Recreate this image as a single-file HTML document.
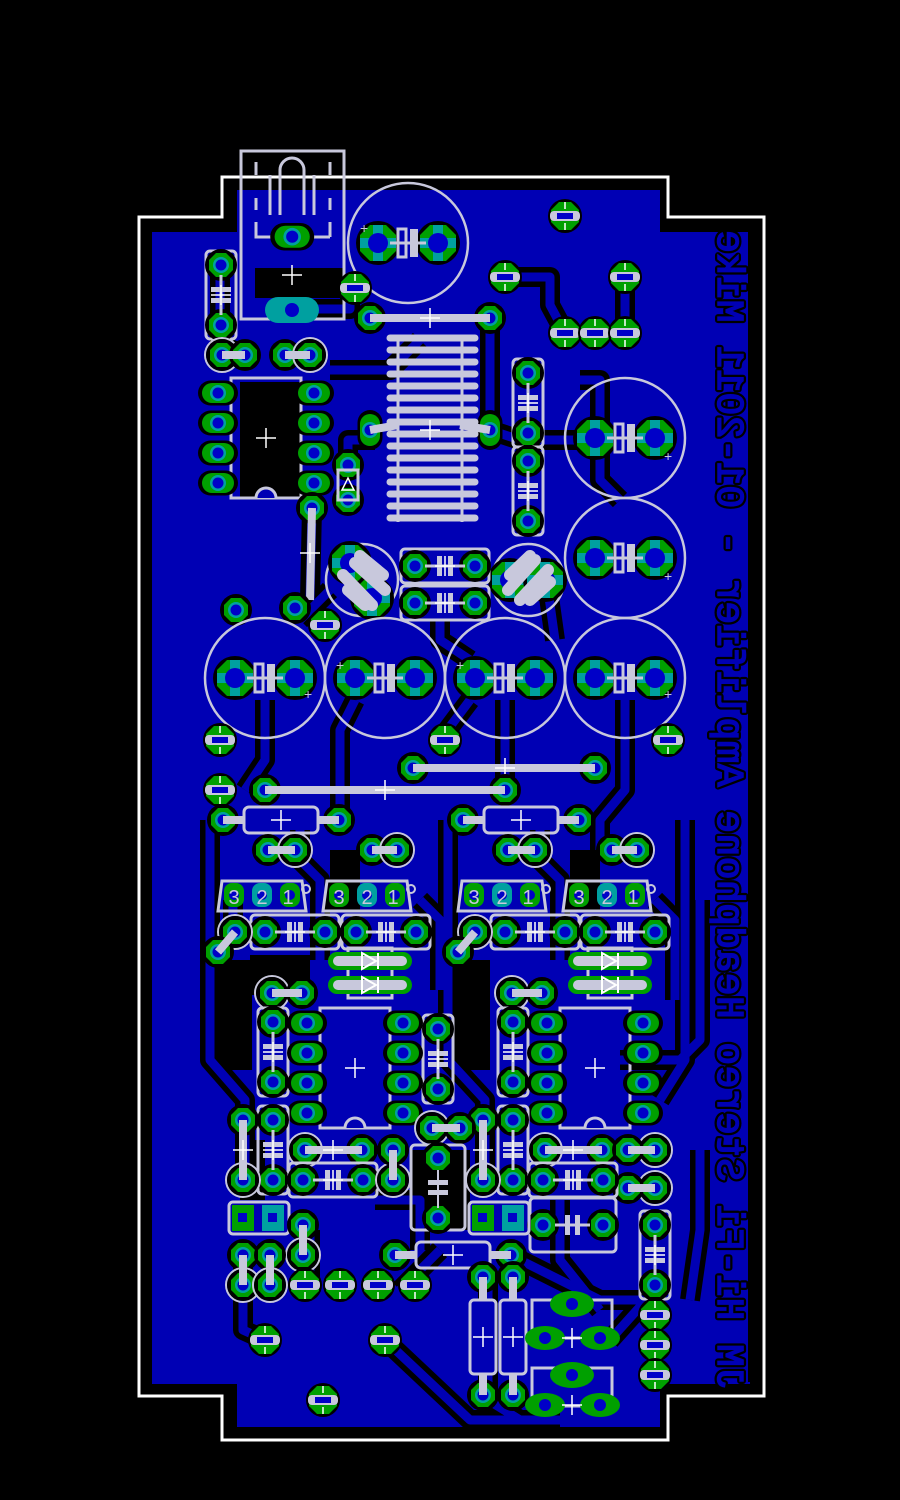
<!DOCTYPE html>
<html><head><meta charset="utf-8"><style>html,body{margin:0;padding:0;background:#000}svg{display:block}</style></head>
<body>
<svg width="900" height="1500" viewBox="0 0 900 1500" xmlns="http://www.w3.org/2000/svg">
<defs>
<g id="p"><circle r="16" fill="#000"/><polygon points="-5,-12 5,-12 12,-5 12,5 5,12 -5,12 -12,5 -12,-5" fill="#00a000"/><circle r="8" fill="#00a0a0"/><circle r="5.5" fill="#0000c8"/></g>
<g id="bp"><circle r="22" fill="#000"/><polygon points="-8,-18 8,-18 18,-8 18,8 8,18 -8,18 -18,8 -18,-8" fill="#00a000"/><path d="M0,-18 V18 M-18,0 H18" stroke="#00a0a0" stroke-width="10"/><circle r="10" fill="#0000c8"/></g>
<g id="s"><circle r="17" fill="#000"/><polygon points="-6,-14 6,-14 14,-6 14,6 6,14 -6,14 -14,6 -14,-6" fill="#00a000"/><rect x="-15" y="-5" width="30" height="10" rx="4" fill="#c8c8dc"/><rect x="-8" y="-3" width="16" height="6" fill="#0000c8"/><path d="M0,-14 V-7 M0,7 V14" stroke="#fff" stroke-width="1.5"/></g>
<g id="r"><circle r="17" fill="none" stroke="#c8c8dc" stroke-width="2"/><circle r="13" fill="none" stroke="#c8c8dc" stroke-width="2"/><use href="#p"/></g>
<g id="ov"><rect x="-16" y="-10" width="32" height="20" rx="10" fill="#000" transform="scale(1.25)"/><rect x="-16" y="-10" width="32" height="20" rx="10" fill="#00a000"/><circle r="8" fill="#00a0a0"/><circle r="5.5" fill="#0000c8"/></g>
<g id="cx"><path d="M-10,0 H10 M0,-10 V10" stroke="#fff" stroke-width="1.5"/></g>
<g id="ch"><rect x="-44" y="-17" width="88" height="34" rx="4" fill="none" stroke="#c8c8dc" stroke-width="3"/><use href="#p" x="-30"/><use href="#p" x="30"/><path d="M-20,0 H20" stroke="#c8c8dc" stroke-width="3"/><rect x="-8" y="-10" width="5" height="20" fill="#c8c8dc"/><rect x="3" y="-10" width="5" height="20" fill="#c8c8dc"/><use href="#cx"/></g>
<g id="cv"><rect x="-15" y="-44" width="30" height="88" rx="4" fill="none" stroke="#c8c8dc" stroke-width="3"/><use href="#p" y="-30"/><use href="#p" y="30"/><path d="M0,-20 V20" stroke="#c8c8dc" stroke-width="3"/><rect x="-10" y="-8" width="20" height="5" fill="#c8c8dc"/><rect x="-10" y="3" width="20" height="5" fill="#c8c8dc"/><use href="#cx"/></g>
<g id="el"><circle r="60" fill="none" stroke="#c8c8dc" stroke-width="2.5"/><use href="#bp" x="-30"/><use href="#bp" x="30"/><path d="M-18,0 H18" stroke="#c8c8dc" stroke-width="3"/><rect x="-10" y="-14" width="8" height="28" fill="none" stroke="#c8c8dc" stroke-width="3"/><rect x="2" y="-14" width="8" height="28" fill="#c8c8dc"/></g>
<g id="res"><rect x="-37" y="-13" width="74" height="26" rx="5" fill="none" stroke="#c8c8dc" stroke-width="3"/><use href="#p" x="-58"/><use href="#p" x="58"/><path d="M-58,0 H-37 M37,0 H58" stroke="#c8c8dc" stroke-width="8"/><use href="#cx"/></g>
<g id="tr"><path d="M-40,-14 H40 L44,16 H-44 Z" fill="none" stroke="#c8c8dc" stroke-width="3"/><rect x="-38" y="-12" width="20" height="24" rx="8" fill="#00a000"/><rect x="-10" y="-12" width="20" height="24" rx="8" fill="#00a0a0"/><rect x="18" y="-12" width="20" height="24" rx="8" fill="#00a000"/><circle cx="-28" r="5" fill="#0000c8"/><circle r="5" fill="#0000c8"/><circle cx="28" r="5" fill="#0000c8"/><text x="-28" y="9" font-family="Liberation Sans, sans-serif" font-size="20" fill="#c8c8dc" text-anchor="middle">3</text><text x="0" y="9" font-family="Liberation Sans, sans-serif" font-size="20" fill="#c8c8dc" text-anchor="middle">2</text><text x="26" y="9" font-family="Liberation Sans, sans-serif" font-size="20" fill="#c8c8dc" text-anchor="middle">1</text><circle cx="44" cy="-6" r="4" fill="none" stroke="#c8c8dc" stroke-width="2"/></g>
<g id="dip"><rect x="-35" y="-60" width="70" height="120" fill="none" stroke="#c8c8dc" stroke-width="3"/><path d="M-10,60 A10,10 0 0 1 10,60" fill="#0000b4" stroke="#c8c8dc" stroke-width="3"/><use href="#ov" x="-48" y="-45"/><use href="#ov" x="-48" y="-15"/><use href="#ov" x="-48" y="15"/><use href="#ov" x="-48" y="45"/><use href="#ov" x="48" y="-45"/><use href="#ov" x="48" y="-15"/><use href="#ov" x="48" y="15"/><use href="#ov" x="48" y="45"/><use href="#cx"/></g>
<g id="dd"><rect x="-22" y="-25" width="44" height="50" fill="none" stroke="#c8c8dc" stroke-width="3"/><rect x="-42" y="-21" width="84" height="18" rx="9" fill="#00a000"/><rect x="-42" y="3" width="84" height="18" rx="9" fill="#00a000"/><path d="M-32,-12 H32 M-32,12 H32" stroke="#c8c8dc" stroke-width="10" stroke-linecap="round"/><path d="M-8,-20 L6,-12 L-8,-4 Z M-8,4 L6,12 L-8,20 Z" fill="none" stroke="#fff" stroke-width="2"/><path d="M8,-20 V-4 M8,4 V20" stroke="#fff" stroke-width="2"/></g>
</defs>

<path d="M222,177 H668 V217 H764 V1396 H668 V1440 H222 V1396 H139 V217 H222 Z" fill="none" stroke="#fff" stroke-width="3"/>
<path d="M152,232 H237 V190 H660 V232 H750 V1384 H660 V1427 H237 V1384 H152 Z" fill="#0000b4"/>

<g fill="#000">
<rect x="240" y="382" width="62" height="115"/>
<rect x="255" y="268" width="90" height="30"/>
<rect x="212" y="960" width="40" height="110"/>
<rect x="250" y="955" width="60" height="40"/>
<rect x="450" y="960" width="40" height="110"/>
<rect x="240" y="1140" width="25" height="60"/>
<rect x="410" y="1150" width="60" height="80"/>
<rect x="330" y="850" width="30" height="60"/>
<rect x="570" y="850" width="30" height="60"/>
</g>

<g fill="none" stroke="#000" stroke-width="20" stroke-linejoin="round">
<path d="M220,265 V345 L245,355"/><path d="M292,309 H350 V290"/><path d="M312,508 L310,600"/><path d="M330,370 H390 L420,340"/><path d="M348,470 V440 H375"/><path d="M505,277 H550 V305 L565,333"/><path d="M625,277 V333"/><path d="M490,320 V430 L520,440 H590 L600,420 V400"/><path d="M555,440 H610"/><path d="M580,380 H600 V480 L620,500"/><path d="M300,620 L330,590"/><path d="M265,700 V760 L245,790"/><path d="M355,700 L340,730 V820"/><path d="M505,700 V790"/><path d="M625,700 V790 L600,820 V850"/><path d="M440,620 V640 L470,660"/><path d="M548,590 L555,640"/><path d="M210,820 V1060 L245,1100 V1180"/><path d="M448,820 V1060 L485,1100 V1180"/><path d="M685,820 V1060 L660,1100"/><path d="M233,900 V920"/><path d="M300,830 V860 L320,880 V960"/><path d="M540,830 V860 L560,880 V960"/><path d="M420,900 L440,920 V990"/><path d="M655,900 L675,920 V1000"/><path d="M243,1260 V1330 L265,1340"/><path d="M440,1250 L400,1290"/><path d="M385,1340 L470,1420 H560"/><path d="M488,1280 V1400 L520,1420"/><path d="M520,1260 L600,1300 H650"/><path d="M560,1200 L560,1260 L600,1310"/><path d="M700,1150 V1230 L690,1300"/><path d="M655,1290 L610,1340"/><path d="M375,1200 H420 V1250"/><path d="M310,1230 V1290"/><path d="M620,1060 H680 L700,1040 V900"/><path d="M440,740 L470,700"/>
</g>
<g fill="none" stroke="#0000b4" stroke-width="9" stroke-linejoin="round">
<path d="M220,265 V345 L245,355"/><path d="M292,309 H350 V290"/><path d="M312,508 L310,600"/><path d="M330,370 H390 L420,340"/><path d="M348,470 V440 H375"/><path d="M505,277 H550 V305 L565,333"/><path d="M625,277 V333"/><path d="M490,320 V430 L520,440 H590 L600,420 V400"/><path d="M555,440 H610"/><path d="M580,380 H600 V480 L620,500"/><path d="M300,620 L330,590"/><path d="M265,700 V760 L245,790"/><path d="M355,700 L340,730 V820"/><path d="M505,700 V790"/><path d="M625,700 V790 L600,820 V850"/><path d="M440,620 V640 L470,660"/><path d="M548,590 L555,640"/><path d="M210,820 V1060 L245,1100 V1180"/><path d="M448,820 V1060 L485,1100 V1180"/><path d="M685,820 V1060 L660,1100"/><path d="M233,900 V920"/><path d="M300,830 V860 L320,880 V960"/><path d="M540,830 V860 L560,880 V960"/><path d="M420,900 L440,920 V990"/><path d="M655,900 L675,920 V1000"/><path d="M243,1260 V1330 L265,1340"/><path d="M440,1250 L400,1290"/><path d="M385,1340 L470,1420 H560"/><path d="M488,1280 V1400 L520,1420"/><path d="M520,1260 L600,1300 H650"/><path d="M560,1200 L560,1260 L600,1310"/><path d="M700,1150 V1230 L690,1300"/><path d="M655,1290 L610,1340"/><path d="M375,1200 H420 V1250"/><path d="M310,1230 V1290"/><path d="M620,1060 H680 L700,1040 V900"/><path d="M440,740 L470,700"/>
</g>

<!-- text -->
<rect x="748" y="232" width="14" height="1150" fill="#000"/>
<text transform="translate(718,1390) scale(-1,1) rotate(-90)" font-family="Liberation Mono, monospace" font-size="38" fill="#0000b4" stroke="#000" stroke-width="6" stroke-linejoin="round" textLength="1160" lengthAdjust="spacing">JM Hi-Fi Stereo Headphone Amplifier - 01-2011 Mike</text>
<text transform="translate(718,1390) scale(-1,1) rotate(-90)" font-family="Liberation Mono, monospace" font-size="38" fill="#0000b4" stroke="#0000b4" stroke-width="1.5" textLength="1160" lengthAdjust="spacing">JM Hi-Fi Stereo Headphone Amplifier - 01-2011 Mike</text>

<g stroke="#c8c8dc" stroke-width="3" fill="none">
<rect x="241" y="151" width="103" height="168"/>
<path d="M256,162 V175 M256,198 V210 M256,222 V237 H330 M330,162 V175 M330,198 V210 M330,222 V237"/>
<path d="M280,215 V170 A12,12 0 0 1 304,170 V215 M270,175 V215 M314,175 V215"/>
</g>
<use href="#ov" x="292" y="237" transform="translate(-29,-24) scale(1.1)"/>
<g><rect x="265" y="297" width="54" height="26" rx="13" fill="#00a0a0"/><circle cx="292" cy="310" r="7" fill="#0000c8"/></g>
<use href="#cx" x="292" y="275"/>
<use href="#cv" x="221" y="295"/>
<use href="#el" x="408" y="243"/>
<text x="360" y="233" font-family="Liberation Sans, sans-serif" font-size="14" fill="#c8c8dc">+</text>
<use href="#s" x="565" y="216"/>
<use href="#s" x="355" y="288"/>
<use href="#s" x="505" y="277"/><use href="#s" x="625" y="277"/>
<use href="#s" x="565" y="333"/><use href="#s" x="595" y="333"/><use href="#s" x="625" y="333"/>

<use href="#r" x="222" y="355"/><use href="#p" x="245" y="355"/><use href="#p" x="285" y="355"/><use href="#r" x="310" y="355"/>
<path d="M222,355 H245 M285,355 H310" stroke="#c8c8dc" stroke-width="8"/>

<!-- coil -->
<use href="#p" x="370" y="318"/><use href="#p" x="490" y="318"/>
<path d="M370,318 H490" stroke="#c8c8dc" stroke-width="8"/>
<use href="#ov" x="370" y="430" transform="rotate(90 370 430)"/><use href="#ov" x="490" y="430" transform="rotate(90 490 430)"/>
<g stroke="#c8c8dc" stroke-width="7" stroke-linecap="round">
<path d="M390,338 H475 M390,350 H475 M390,362 H475 M390,374 H475 M390,386 H475 M390,398 H475 M390,410 H475 M390,422 H475 M390,434 H475 M390,446 H475 M390,458 H475 M390,470 H475 M390,482 H475 M390,494 H475 M390,506 H475 M390,518 H475"/>
</g>
<path d="M398,335 V522 M462,335 V522" stroke="#c8c8dc" stroke-width="3"/>
<path d="M370,430 L398,425 M490,430 L460,425" stroke="#c8c8dc" stroke-width="8"/>
<use href="#cx" x="430" y="430"/><use href="#cx" x="430" y="318"/>

<use href="#dip" x="266" y="438"/>
<use href="#p" x="348" y="465"/><use href="#p" x="348" y="500"/>
<rect x="338" y="470" width="20" height="30" fill="none" stroke="#c8c8dc" stroke-width="3"/>
<path d="M342,490 L348,478 L354,490 Z" fill="none" stroke="#fff" stroke-width="1.5"/>
<use href="#p" x="312" y="508"/>
<path d="M312,508 L310,600" stroke="#c8c8dc" stroke-width="8"/>
<use href="#cx" x="310" y="553"/>

<use href="#cv" x="528" y="403"/><use href="#cv" x="528" y="491"/>
<use href="#el" x="625" y="438"/><use href="#el" x="625" y="558"/>
<text x="664" y="461" font-family="Liberation Sans, sans-serif" font-size="14" fill="#c8c8dc">+</text>
<text x="664" y="581" font-family="Liberation Sans, sans-serif" font-size="14" fill="#c8c8dc">+</text>

<g>
<circle cx="362" cy="580" r="36" fill="none" stroke="#c8c8dc" stroke-width="2.5"/>
<use href="#bp" x="350" y="563"/><use href="#bp" x="372" y="598"/>
<path d="M343,575 L372,605 M355,563 L385,590 M348,590 L365,605 M360,556 L383,575" stroke="#c8c8dc" stroke-width="12" stroke-linecap="round"/>
<circle cx="528" cy="580" r="36" fill="none" stroke="#c8c8dc" stroke-width="2.5"/>
<use href="#bp" x="510" y="580"/><use href="#bp" x="545" y="580"/>
<path d="M508,590 L535,560 M520,600 L548,570 M510,575 L530,556 M530,600 L550,582" stroke="#c8c8dc" stroke-width="12" stroke-linecap="round"/>
</g>
<use href="#ch" x="445" y="566"/><use href="#ch" x="445" y="603"/>
<use href="#p" x="236" y="610"/><use href="#p" x="295" y="608"/><use href="#s" x="325" y="625"/>

<use href="#el" x="265" y="678"/><use href="#el" x="385" y="678"/><use href="#el" x="505" y="678"/><use href="#el" x="625" y="678"/>
<g font-family="Liberation Sans, sans-serif" font-size="14" fill="#c8c8dc"><text x="304" y="699">+</text><text x="336" y="670">+</text><text x="456" y="670">+</text><text x="664" y="699">+</text></g>
<use href="#s" x="220" y="740"/><use href="#s" x="445" y="740"/><use href="#s" x="668" y="740"/><use href="#s" x="220" y="790"/>

<use href="#p" x="413" y="768"/><use href="#p" x="595" y="768"/>
<path d="M413,768 H595" stroke="#c8c8dc" stroke-width="8"/><use href="#cx" x="505" y="768"/>
<use href="#p" x="265" y="790"/><use href="#p" x="505" y="790"/>
<path d="M265,790 H505" stroke="#c8c8dc" stroke-width="8"/><use href="#cx" x="385" y="790"/>

<use href="#res" x="281" y="820"/><use href="#res" x="521" y="820"/>

<g>
<use href="#p" x="268" y="850"/><use href="#r" x="295" y="850"/><path d="M268,850 H295" stroke="#c8c8dc" stroke-width="8"/>
<use href="#p" x="372" y="850"/><use href="#r" x="397" y="850"/><path d="M372,850 H397" stroke="#c8c8dc" stroke-width="8"/>
<use href="#p" x="508" y="850"/><use href="#r" x="535" y="850"/><path d="M508,850 H535" stroke="#c8c8dc" stroke-width="8"/>
<use href="#p" x="612" y="850"/><use href="#r" x="637" y="850"/><path d="M612,850 H637" stroke="#c8c8dc" stroke-width="8"/>
</g>

<use href="#tr" x="262" y="895"/><use href="#tr" x="367" y="895"/><use href="#tr" x="502" y="895"/><use href="#tr" x="607" y="895"/>

<use href="#ch" x="295" y="932"/><use href="#ch" x="386" y="932"/><use href="#ch" x="535" y="932"/><use href="#ch" x="625" y="932"/>
<use href="#r" x="235" y="932"/><use href="#p" x="218" y="952"/><path d="M218,952 L235,932" stroke="#c8c8dc" stroke-width="8"/>
<use href="#r" x="475" y="932"/><use href="#p" x="458" y="952"/><path d="M458,952 L475,932" stroke="#c8c8dc" stroke-width="8"/>

<use href="#dd" x="370" y="973"/><use href="#dd" x="610" y="973"/>
<use href="#r" x="272" y="993"/><use href="#p" x="302" y="993"/><path d="M272,993 H302" stroke="#c8c8dc" stroke-width="8"/>
<use href="#r" x="512" y="993"/><use href="#p" x="542" y="993"/><path d="M512,993 H542" stroke="#c8c8dc" stroke-width="8"/>

<use href="#cv" x="273" y="1052"/><use href="#cv" x="513" y="1052"/><use href="#cv" x="438" y="1059"/>
<use href="#dip" x="355" y="1068"/><use href="#dip" x="595" y="1068"/>

<use href="#cv" x="273" y="1150"/><use href="#cv" x="513" y="1150"/>
<use href="#p" x="243" y="1120"/><use href="#r" x="243" y="1180"/><path d="M243,1120 V1180" stroke="#c8c8dc" stroke-width="8"/><use href="#cx" x="243" y="1150"/>
<use href="#p" x="483" y="1120"/><use href="#r" x="483" y="1180"/><path d="M483,1120 V1180" stroke="#c8c8dc" stroke-width="8"/><use href="#cx" x="483" y="1150"/>
<use href="#r" x="305" y="1150"/><use href="#p" x="362" y="1150"/><path d="M305,1150 H362" stroke="#c8c8dc" stroke-width="8"/><use href="#cx" x="333" y="1150"/>
<use href="#r" x="545" y="1150"/><use href="#p" x="602" y="1150"/><path d="M545,1150 H602" stroke="#c8c8dc" stroke-width="8"/><use href="#cx" x="573" y="1150"/>
<use href="#r" x="655" y="1150"/><use href="#p" x="628" y="1150"/><path d="M628,1150 H655" stroke="#c8c8dc" stroke-width="8"/>
<use href="#r" x="655" y="1188"/><use href="#p" x="628" y="1188"/><path d="M628,1188 H655" stroke="#c8c8dc" stroke-width="8"/>
<use href="#r" x="432" y="1128"/><use href="#p" x="460" y="1128"/><path d="M432,1128 H460" stroke="#c8c8dc" stroke-width="8"/>
<use href="#ch" x="333" y="1180"/><use href="#ch" x="573" y="1180"/>
<use href="#r" x="393" y="1180"/><use href="#p" x="393" y="1150"/><path d="M393,1150 V1180" stroke="#c8c8dc" stroke-width="8"/>
<g><rect x="411" y="1145" width="54" height="85" rx="4" fill="none" stroke="#c8c8dc" stroke-width="3"/><use href="#p" x="438" y="1158"/><use href="#p" x="438" y="1218"/><rect x="428" y="1180" width="20" height="5" fill="#c8c8dc"/><rect x="428" y="1190" width="20" height="5" fill="#c8c8dc"/><path d="M438,1170 V1208" stroke="#c8c8dc" stroke-width="2"/></g>
<g><rect x="530" y="1198" width="86" height="54" rx="4" fill="none" stroke="#c8c8dc" stroke-width="3"/><use href="#p" x="543" y="1225"/><use href="#p" x="603" y="1225"/><path d="M555,1225 H590" stroke="#c8c8dc" stroke-width="3"/><rect x="565" y="1215" width="5" height="20" fill="#c8c8dc"/><rect x="575" y="1215" width="5" height="20" fill="#c8c8dc"/></g>
<use href="#cv" x="655" y="1255"/>

<g>
<rect x="229" y="1202" width="60" height="32" rx="4" fill="none" stroke="#c8c8dc" stroke-width="3"/>
<rect x="232" y="1205" width="22" height="26" fill="#00a000"/><rect x="262" y="1205" width="22" height="26" fill="#00a0a0"/>
<rect x="238" y="1213" width="9" height="9" fill="#0000c8"/><rect x="268" y="1213" width="9" height="9" fill="#0000c8"/>
<rect x="469" y="1202" width="60" height="32" rx="4" fill="none" stroke="#c8c8dc" stroke-width="3"/>
<rect x="472" y="1205" width="22" height="26" fill="#00a000"/><rect x="502" y="1205" width="22" height="26" fill="#00a0a0"/>
<rect x="478" y="1213" width="9" height="9" fill="#0000c8"/><rect x="508" y="1213" width="9" height="9" fill="#0000c8"/>
</g>
<use href="#p" x="303" y="1225"/><use href="#r" x="303" y="1255"/><path d="M303,1225 V1255" stroke="#c8c8dc" stroke-width="8"/>
<use href="#p" x="243" y="1255"/><use href="#r" x="243" y="1285"/><path d="M243,1255 V1285" stroke="#c8c8dc" stroke-width="8"/>
<use href="#p" x="270" y="1255"/><use href="#r" x="270" y="1285"/><path d="M270,1255 V1285" stroke="#c8c8dc" stroke-width="8"/>
<use href="#s" x="305" y="1285"/><use href="#s" x="340" y="1285"/><use href="#s" x="378" y="1285"/><use href="#s" x="415" y="1285"/>
<use href="#res" x="453" y="1255"/>

<use href="#p" x="483" y="1277"/><use href="#p" x="513" y="1277"/><use href="#p" x="483" y="1395"/><use href="#p" x="513" y="1395"/>
<path d="M483,1277 V1395 M513,1277 V1395" stroke="#c8c8dc" stroke-width="8"/>
<rect x="470" y="1300" width="26" height="74" rx="4" fill="#0000b4" stroke="#c8c8dc" stroke-width="3"/>
<rect x="500" y="1300" width="26" height="74" rx="4" fill="#0000b4" stroke="#c8c8dc" stroke-width="3"/>
<use href="#cx" x="483" y="1337"/><use href="#cx" x="513" y="1337"/>

<g>
<rect x="532" y="1300" width="80" height="38" fill="none" stroke="#c8c8dc" stroke-width="3"/>
<ellipse cx="572" cy="1304" rx="22" ry="13" fill="#00a000"/><circle cx="572" cy="1304" r="6" fill="#0000c8"/>
<ellipse cx="545" cy="1338" rx="20" ry="12" fill="#00a000"/><circle cx="545" cy="1338" r="6" fill="#0000c8"/>
<ellipse cx="600" cy="1338" rx="20" ry="12" fill="#00a000"/><circle cx="600" cy="1338" r="6" fill="#0000c8"/>
<rect x="532" y="1368" width="80" height="38" fill="none" stroke="#c8c8dc" stroke-width="3"/>
<ellipse cx="572" cy="1375" rx="22" ry="13" fill="#00a000"/><circle cx="572" cy="1375" r="6" fill="#0000c8"/>
<ellipse cx="545" cy="1405" rx="20" ry="12" fill="#00a000"/><circle cx="545" cy="1405" r="6" fill="#0000c8"/>
<ellipse cx="600" cy="1405" rx="20" ry="12" fill="#00a000"/><circle cx="600" cy="1405" r="6" fill="#0000c8"/>
<use href="#cx" x="572" y="1338"/><use href="#cx" x="572" y="1405"/>
</g>
<use href="#s" x="655" y="1315"/><use href="#s" x="655" y="1345"/><use href="#s" x="655" y="1375"/>
<use href="#s" x="265" y="1340"/><use href="#s" x="385" y="1340"/><use href="#s" x="323" y="1400"/>
</svg>
</body></html>
